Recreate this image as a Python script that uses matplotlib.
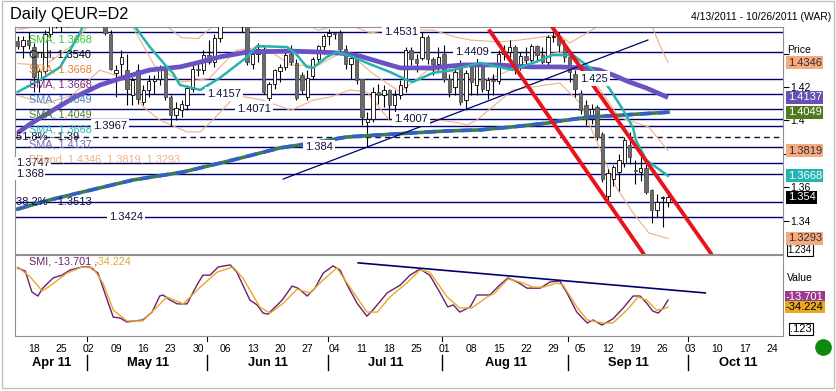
import numpy as np
import pandas as pd
import matplotlib
matplotlib.use("Agg")
import matplotlib.pyplot as plt
import matplotlib.transforms as mtransforms
from matplotlib.patches import Rectangle
from matplotlib.lines import Line2D

plt.rcParams['font.family'] = ['Liberation Sans', 'DejaVu Sans']

# trading days shown on the axis (4/13/2011 - 10/26/2011)
days = pd.bdate_range('2011-04-13', '2011-10-26')

# daily candles, 4/13 .. 9/27
opens = [1.4478, 1.4445, 1.4480, 1.4440, 1.4240, 1.4295, 1.4515, 1.4610, 1.4570, 1.4580,
         1.4690, 1.4830, 1.4810, 1.4805, 1.4825, 1.4830, 1.4835, 1.4515, 1.4285, 1.4340,
         1.4300, 1.4150, 1.4300, 1.4110, 1.4180, 1.4235, 1.4245, 1.4310, 1.4140, 1.4030,
         1.4060, 1.4095, 1.4190, 1.4310, 1.4300, 1.4390, 1.4350, 1.4495, 1.4640, 1.4610,
         1.4670, 1.4650, 1.4600, 1.4335, 1.4400, 1.4430, 1.4135, 1.4220, 1.4295, 1.4320,
         1.4400, 1.4345, 1.4270, 1.4140, 1.4265, 1.4365, 1.4445, 1.4505, 1.4525, 1.4525,
         1.4425, 1.4335, 1.4375, 1.4245, 1.3990, 1.4010, 1.4170, 1.4150, 1.4180, 1.4090,
         1.4150, 1.4200, 1.4420, 1.4370, 1.4375, 1.4500, 1.4365, 1.4335, 1.4400, 1.4245,
         1.4200, 1.4340, 1.4120, 1.4320, 1.4210, 1.4330, 1.4180, 1.4240, 1.4235, 1.4400,
         1.4410, 1.4440, 1.4335, 1.4385, 1.4360, 1.4445, 1.4390, 1.4350, 1.4500, 1.4500,
         1.4450, 1.4380, 1.4280, 1.4165, 1.4090, 1.4010, 1.4080, 1.3920, 1.3545, 1.3650,
         1.3690, 1.3745, 1.3850, 1.3700, 1.3690, 1.3715, 1.3585, 1.3465, 1.3535, 1.3510]
highs = [1.4505, 1.4508, 1.4530, 1.4465, 1.4310, 1.4540, 1.4640, 1.4620, 1.4600, 1.4700,
         1.4860, 1.4880, 1.4880, 1.4890, 1.4870, 1.4940, 1.4860, 1.4540, 1.4330, 1.4420,
         1.4400, 1.4260, 1.4340, 1.4210, 1.4270, 1.4270, 1.4330, 1.4325, 1.4150, 1.4110,
         1.4120, 1.4210, 1.4330, 1.4340, 1.4420, 1.4480, 1.4520, 1.4650, 1.4650, 1.4700,
         1.4690, 1.4680, 1.4610, 1.4420, 1.4465, 1.4440, 1.4230, 1.4310, 1.4340, 1.4410,
         1.4450, 1.4370, 1.4290, 1.4300, 1.4380, 1.4450, 1.4520, 1.4545, 1.4531, 1.4540,
         1.4450, 1.4390, 1.4390, 1.4250, 1.4050, 1.4200, 1.4220, 1.4210, 1.4185, 1.4180,
         1.4240, 1.4440, 1.4440, 1.4400, 1.4531, 1.4510, 1.4380, 1.4440, 1.4450, 1.4280,
         1.4320, 1.4360, 1.4300, 1.4330, 1.4380, 1.4350, 1.4260, 1.4280, 1.4420, 1.4450,
         1.4480, 1.4450, 1.4410, 1.4440, 1.4460, 1.4450, 1.4440, 1.4510, 1.4550, 1.4530,
         1.4480, 1.4420, 1.4300, 1.4180, 1.4120, 1.4100, 1.4090, 1.3930, 1.3710, 1.3730,
         1.3800, 1.3900, 1.3930, 1.3760, 1.3780, 1.3740, 1.3590, 1.3560, 1.3545, 1.3570]
lows = [1.4425, 1.4375, 1.4430, 1.4170, 1.4170, 1.4280, 1.4500, 1.4555, 1.4530, 1.4560,
        1.4660, 1.4780, 1.4770, 1.4770, 1.4780, 1.4790, 1.4510, 1.4300, 1.4140, 1.4250,
        1.4090, 1.4090, 1.4100, 1.4090, 1.4140, 1.4160, 1.4210, 1.4120, 1.3967, 1.4000,
        1.4020, 1.4060, 1.4170, 1.4265, 1.4280, 1.4340, 1.4320, 1.4470, 1.4570, 1.4600,
        1.4580, 1.4530, 1.4330, 1.4310, 1.4350, 1.4160, 1.4071, 1.4190, 1.4230, 1.4300,
        1.4330, 1.4120, 1.4160, 1.4120, 1.4250, 1.4340, 1.4400, 1.4450, 1.4490, 1.4400,
        1.4310, 1.4250, 1.4220, 1.3970, 1.3840, 1.3990, 1.4100, 1.4080, 1.4007, 1.4050,
        1.4130, 1.4170, 1.4330, 1.4290, 1.4360, 1.4340, 1.4270, 1.4300, 1.4230, 1.4140,
        1.4150, 1.4090, 1.4060, 1.4150, 1.4150, 1.4170, 1.4130, 1.4150, 1.4220, 1.4360,
        1.4380, 1.4280, 1.4300, 1.4340, 1.4350, 1.4350, 1.4340, 1.4320, 1.4470, 1.4410,
        1.4350, 1.4230, 1.4140, 1.4040, 1.3970, 1.3980, 1.3880, 1.3630, 1.3500, 1.3610,
        1.3580, 1.3720, 1.3740, 1.3620, 1.3640, 1.3560, 1.3385, 1.3420, 1.3360, 1.3480]
closes = [1.4445, 1.4480, 1.4450, 1.4260, 1.4295, 1.4515, 1.4610, 1.4570, 1.4580, 1.4690,
          1.4830, 1.4810, 1.4805, 1.4825, 1.4830, 1.4835, 1.4525, 1.4310, 1.4300, 1.4380,
          1.4185, 1.4240, 1.4125, 1.4180, 1.4235, 1.4245, 1.4305, 1.4140, 1.4030, 1.4075,
          1.4100, 1.4195, 1.4310, 1.4300, 1.4390, 1.4350, 1.4495, 1.4640, 1.4610, 1.4670,
          1.4650, 1.4600, 1.4350, 1.4400, 1.4430, 1.4170, 1.4220, 1.4300, 1.4320, 1.4390,
          1.4350, 1.4135, 1.4180, 1.4255, 1.4365, 1.4445, 1.4505, 1.4525, 1.4520, 1.4425,
          1.4335, 1.4375, 1.4240, 1.4020, 1.4010, 1.4170, 1.4150, 1.4180, 1.4090, 1.4150,
          1.4210, 1.4420, 1.4370, 1.4345, 1.4500, 1.4365, 1.4335, 1.4380, 1.4245, 1.4170,
          1.4290, 1.4110, 1.4285, 1.4230, 1.4330, 1.4190, 1.4240, 1.4235, 1.4400, 1.4410,
          1.4440, 1.4335, 1.4385, 1.4360, 1.4445, 1.4390, 1.4350, 1.4500, 1.4505, 1.4450,
          1.4380, 1.4290, 1.4190, 1.4060, 1.4010, 1.4070, 1.3900, 1.3650, 1.3685, 1.3720,
          1.3760, 1.3880, 1.3780, 1.3695, 1.3715, 1.3570, 1.3465, 1.3510, 1.3540, 1.3540]

# overlays (x = trading-day index)
teal_x = [0, 4.1, 7.8, 11.4, 13.2, 16.9, 19.7, 21.5, 24.2, 27.3, 28.4, 29.7, 33.4, 37.0, 42.0,
          43.8, 49.3, 50.8, 52.9, 54.0, 56.6, 58.4, 61.4, 63.9, 68.1, 71.2, 72.3, 76.0, 79.7,
          84.6, 90.6, 94.3, 97.9, 101.6, 104.0, 105.8, 108.2, 110.8, 112.6, 113.1, 115.0, 119]
teal_y = [1.4170, 1.4242, 1.4320, 1.4523, 1.4661, 1.4750, 1.4631, 1.4559, 1.4439, 1.4320,
          1.4284, 1.4212, 1.4182, 1.4254, 1.4380, 1.4445, 1.4439, 1.4403, 1.4320, 1.4314,
          1.4380, 1.4409, 1.4380, 1.4344, 1.4290, 1.4242, 1.4230, 1.4284, 1.4302, 1.4344,
          1.4302, 1.4344, 1.4391, 1.4391, 1.4332, 1.4290, 1.4194, 1.4062, 1.3955, 1.3883,
          1.3763, 1.3668]
purple_x = [0, 2.3, 5.9, 10.5, 15.1, 19.7, 24.2, 29.7, 33.4, 37.0, 42.0, 49.8, 55.3, 59.0,
            62.6, 66.3, 70.0, 75.4, 81.5, 87.7, 93.7, 99.2, 103.4, 106.4, 108.9, 111.9, 115.0, 119]
purple_y = [1.3925, 1.3978, 1.4050, 1.4140, 1.4212, 1.4260, 1.4302, 1.4320, 1.4349, 1.4380,
            1.4409, 1.4415, 1.4409, 1.4403, 1.4385, 1.4349, 1.4314, 1.4314, 1.4332, 1.4332,
            1.4320, 1.4320, 1.4314, 1.4302, 1.4272, 1.4230, 1.4194, 1.4137]
long_x = [0, 5.9, 12.0, 21.1, 30.3, 39.4, 48.0, 54.0, 60.3, 66.3, 72.3, 78.6, 84.6, 90.6,
          96.9, 99.2, 104.5, 110.8, 119]
long_y = [1.3469, 1.3524, 1.3572, 1.3643, 1.3691, 1.3763, 1.3835, 1.3865, 1.3901, 1.3913,
          1.3925, 1.3937, 1.3943, 1.3961, 1.3984, 1.3996, 1.4020, 1.4032, 1.4049]
bbu_x = [0, 3, 6, 10, 15, 20, 24, 27, 30, 33, 36, 40, 45, 50, 55, 60, 64.5, 68, 73.6, 76, 80,
         82.8, 88, 91.9, 96, 99.2, 101, 104, 108, 112, 115, 116.2, 117.5, 119]
bbu_y = [1.4545, 1.4560, 1.4620, 1.4800, 1.4950, 1.4950, 1.4700, 1.4570, 1.4495, 1.4490,
         1.4570, 1.4700, 1.4720, 1.4620, 1.4540, 1.4580, 1.4524, 1.4540, 1.4541, 1.4541,
         1.4500, 1.4481, 1.4470, 1.4481, 1.4500, 1.4511, 1.4463, 1.4520, 1.4600, 1.4620,
         1.4600, 1.4553, 1.4450, 1.4346]
bbm_x = [0, 5, 10, 15, 20, 25, 30, 35, 40, 45, 50, 55, 60, 65, 70, 75, 80, 85, 90, 95, 100,
         105, 110, 115.5, 119]
bbm_y = [1.4340, 1.4330, 1.4450, 1.4650, 1.4620, 1.4330, 1.4230, 1.4250, 1.4420, 1.4440,
         1.4330, 1.4330, 1.4420, 1.4280, 1.4170, 1.4300, 1.4290, 1.4230, 1.4300, 1.4390,
         1.4410, 1.4260, 1.4020, 1.3960, 1.3819]
bbl_x = [0, 5, 10, 15, 20, 23, 26, 31, 33.4, 35.7, 40, 45, 50, 54, 57.2, 60.8, 63.9, 68, 71,
         74, 76.7, 80, 82.2, 84, 90.6, 99.2, 103, 106.4, 109.5, 112.6, 115.5, 119]
bbl_y = [1.4150, 1.4100, 1.4150, 1.4300, 1.4250, 1.4080, 1.4002, 1.3931, 1.3931, 1.4002,
         1.4150, 1.4120, 1.4060, 1.4120, 1.4140, 1.4182, 1.4170, 1.4002, 1.3970, 1.3970,
         1.4002, 1.3990, 1.3972, 1.4002, 1.4182, 1.4224, 1.4100, 1.3840, 1.3600, 1.3446,
         1.3326, 1.3293]

# drawn levels and their label positions
levels = [1.4531, 1.4409, 1.425, 1.4157, 1.4071, 1.4007, 1.3967, 1.384, 1.3747, 1.368, 1.3513, 1.3424]
level_lbl = ['1.4531', '1.4409', '1.425', '1.4157', '1.4071', '1.4007', '1.3967', '1.384',
             '1.3747', '1.368', '', '1.3424']
level_pos = [70.1, 83.1, 105.5, 37.8, 43.3, 72.0, 16.9, 55.1, None, None, None, 19.8]
fib_level = 1.39
trend_up = ([48.6, 115.3], [1.3649, 1.4481])
red_lo = ([86.4, 114.4], [1.4535, 1.3207])
red_hi = ([97.8, 126.8], [1.4559, 1.3206])

# SMI panel
smi_x = [0, 1.4, 2.6, 3.7, 4.6, 6.5, 8.1, 9.6, 11.8, 13.2, 14.7, 16.4, 17.5, 18.7, 20.0, 22.9,
         24.6, 26.0, 26.6, 27.9, 29.2, 31.0, 32.8, 33.9, 35.2, 36.7, 38.9, 40.1, 42.5, 43.8,
         44.9, 45.8, 48.4, 50.2, 51.3, 53.0, 54.4, 55.9, 57.7, 59.0, 60.3, 62.1, 63.9, 65.0,
         67.6, 70.0, 71.8, 73.6, 75.4, 77.3, 78.7, 79.7, 80.9, 82.8, 84.0, 86.4, 88.2, 89.7,
         91.4, 93.2, 95.6, 97.4, 99.2, 100.5, 102.3, 104.2, 105.3, 106.9, 108.9, 110.8, 112.6,
         113.9, 115.1, 116.2, 117.2, 118.1, 119.0]
smi_v = [80, 71, 10, -2, 21, 51, 59, 74, 83, 83, 65, -14, -64, -66, -78, -72, -49, -2, 1, -14,
         -25, -25, 30, 59, 59, 83, 89, 68, -14, -28, -52, -55, -14, 27, 21, -2, 21, 65, 86, 74,
         30, -23, -61, -43, 7, 30, 59, 77, 59, 7, -34, -28, -49, -34, 1, 1, 30, 51, 39, 21, 21,
         39, 42, 7, -49, -81, -72, -87, -69, -37, -2, -2, -23, -46, -52, -37, -13.7]
sig_x = [0, 2.3, 4.5, 5.9, 9.0, 11.8, 13.8, 15.6, 17.5, 20.0, 22.9, 25.5, 27.3, 30.3, 33.4,
         36.5, 39.4, 41.2, 44.3, 46.2, 48.6, 51.1, 53.5, 55.9, 58.4, 60.8, 63.9, 65.8, 68.1,
         71.2, 73.6, 75.4, 78.6, 80.9, 83.1, 85.9, 87.3, 89.7, 91.9, 94.3, 96.1, 98.7, 99.8,
         102.3, 104.2, 107.1, 108.9, 111.5, 113.5, 115.1, 116.9, 118.1, 119.0]
sig_v = [83, 54, 13, 27, 65, 83, 80, 36, -43, -75, -75, -34, -5, -25, 24, 68, 83, 51, -34, -52,
         -23, 18, 7, 45, 80, 24, -49, -49, -5, 36, 74, 68, -5, -37, -37, -5, 7, 48, 39, 24, 24,
         36, 30, -34, -72, -81, -81, -43, -5, -14, -43, -40, -34.2]
smi_trend = ([62.3, 125.8], [95, 7])

W, H = 836, 391
fig = plt.figure(figsize=(W / 100, H / 100), dpi=100)
fig.patch.set_facecolor('white')


def fx(x):
    return x / W


def fy(y):
    return 1 - y / H


ax = fig.add_axes([fx(15), fy(254), fx(783) - fx(15), fy(27) - fy(254)])
ax2 = fig.add_axes([fx(15), fy(336), fx(783) - fx(15), fy(255) - fy(336)])
xmin, xmax = -0.48, 140.03
navy = '#00006e'

# ---- price panel ----
ax.set_xlim(xmin, xmax)
ax.set_ylim(1.3200, 1.4559)
for lv in levels:
    ax.axhline(lv, color=navy, lw=1.0, zorder=1)
ax.axhline(fib_level, color='#101040', lw=1.0, ls=(0, (4, 3)), zorder=1)

for xs, ys in [(bbu_x, bbu_y), (bbm_x, bbm_y), (bbl_x, bbl_y)]:
    ax.plot(xs, ys, color='#f0b088', lw=0.8, zorder=2)

idx = np.arange(len(closes))
o = np.array(opens)
c = np.array(closes)
up = c >= o
ax.vlines(idx, lows, highs, color='black', lw=0.8, zorder=3)
body = np.maximum(np.abs(c - o), 0.00025)
ax.bar(idx[up], body[up], bottom=np.minimum(o, c)[up], width=0.62, facecolor='white',
       edgecolor='black', lw=0.6, zorder=4)
ax.bar(idx[~up], body[~up], bottom=np.minimum(o, c)[~up], width=0.62, facecolor='#6c6c6c',
       edgecolor='#505050', lw=0.6, zorder=4)

ax.plot(long_x, long_y, color='#3f7a52', lw=2.6, zorder=5)
ax.plot(long_x, long_y, color='#2f62c4', lw=2.6, dashes=(3, 2), zorder=5)
ax.plot(purple_x, purple_y, color='#6a52c4', lw=3.4, zorder=5, solid_capstyle='butt')
ax.plot(teal_x, teal_y, color='#25b3ad', lw=1.8, zorder=5)
ax.plot(*trend_up, color=navy, lw=0.9, zorder=5)
ax.plot(*red_lo, color='#e8141c', lw=2.8, zorder=6)
ax.plot(*red_hi, color='#e8141c', lw=2.8, zorder=6)

for lv, s, p in zip(levels, level_lbl, level_pos):
    if not s:
        continue
    if p is None:
        ax.text(-0.3, lv, s, ha='left', va='center', fontsize=8, color='#10103a', zorder=7,
                bbox=dict(facecolor='white', edgecolor='none', pad=0.8))
    else:
        ax.text(p, lv, s, ha='center', va='center', fontsize=8, color='#10103a', zorder=7,
                bbox=dict(facecolor='white', edgecolor='none', pad=1.6))
ax.text(-0.3, fib_level, '51.8% - 1.39', ha='left', va='center', fontsize=8, color='#10103a', zorder=7)
ax.text(-0.3, 1.3513, '38.2% - 1.3513', ha='left', va='center', fontsize=8, color='#10103a', zorder=7)

ax.set_xticks([])
ax.yaxis.tick_right()
ax.set_yticks([1.34, 1.36, 1.38, 1.40, 1.42, 1.44])
ax.set_yticklabels(['1.34', '1.36', '', '1.4', '1.42', ''])
ax.tick_params(axis='y', length=4, width=0.8, pad=1, labelsize=7.5)
for sp in ax.spines.values():
    sp.set_color('#909090')

trans = mtransforms.blended_transform_factory(ax.transAxes, ax.transData)
ax.text(1.006, 1.3222, '1.234', transform=trans, fontsize=7, va='center', clip_on=False,
        zorder=8, bbox=dict(facecolor='white', edgecolor='black', lw=0.8, pad=0.8))
boxes = [(1.4346, '1.4346', '#f6aa80', '#303030'), (1.4137, '1.4137', '#6650b8', 'white'),
         (1.4049, '1.4049', '#4e7a20', 'white'), (1.3819, '1.3819', '#f6aa80', '#303030'),
         (1.3668, '1.3668', '#22b4b4', 'white'), (1.354, '1.354', 'black', 'white'),
         (1.3293, '1.3293', '#f6aa80', '#303030')]
for v, s, fc, tc in boxes:
    ax.text(1.006, v, s, transform=trans, fontsize=8, va='center', color=tc, clip_on=False,
            zorder=9, bbox=dict(facecolor=fc, edgecolor='none', pad=1.0))

# ---- SMI panel ----
ax2.set_xlim(xmin, xmax)
ax2.set_ylim(-119, 118)
ax2.plot(smi_x, smi_v, color='#6a2070', lw=1.0)
ax2.plot(sig_x, sig_v, color='#e8a828', lw=1.0)
ax2.plot(*smi_trend, color=navy, lw=1.2)
ax2.set_yticks([])
for sp in ax2.spines.values():
    sp.set_color('#909090')

mondays = [i for i, d in enumerate(days) if d.weekday() == 0]
ax2.set_xticks(mondays)
ax2.set_xticklabels([days[i].strftime('%d') for i in mondays])
ax2.tick_params(axis='x', length=0, pad=6, labelsize=7.5)

tr2 = mtransforms.blended_transform_factory(ax2.transData, ax2.transAxes)
months = pd.Series(range(len(days)), index=days).groupby(days.to_period('M'))
for per, grp in months:
    a, b = grp.iloc[0], grp.iloc[-1]
    ax2.text((a + b) / 2 + 0.3, -0.33, per.strftime('%b %y'), transform=tr2, ha='center',
             va='center', fontsize=9.3, fontweight='bold', clip_on=False)
    if a > 0:
        ax2.add_line(Line2D([a - 0.3, a - 0.3], [-0.23, -0.42], transform=tr2, color='black',
                            lw=1.0, clip_on=False))
        ax2.add_line(Line2D([a - 0.3, a - 0.3], [-0.01, -0.06], transform=tr2, color='black',
                            lw=0.8, clip_on=False))

# ---- texts ----
fig.text(fx(10), fy(15), 'Daily QEUR=D2', fontsize=11.7, va='center')
fig.text(fx(831), fy(17), '4/13/2011 - 10/26/2011 (WAR)', ha='right', va='center', fontsize=7.5)
fig.text(fx(787), fy(50), 'Price', fontsize=7.5, va='center')

legend = [('SMA, 1.3668', '#30c830'), ('Cndl, 1.3540', 'black'), ('SMA, 1.3668', '#e0802a'),
          ('SMA, 1.3668', '#7a2a7a'), ('SMA, 1.4049', '#4a7fc4'), ('SMA, 1.4049', '#4a7a24'),
          ('SMA, 1.3668', '#30b5b5'), ('SMA, 1.4137', '#7a68b0'),
          ('BBand, 1.4346, 1.3819, 1.3293', '#f0b080')]
for k, (s, col) in enumerate(legend):
    fig.text(fx(29), fy(40 + 14.9 * k), s, color=col, fontsize=7.8, va='center', zorder=10)

fig.text(fx(29), fy(262), 'SMI, -13.701 ,', color='#6a2070', fontsize=7.8, va='center')
fig.text(fx(95), fy(262), '-34.224', color='#e0a828', fontsize=7.8, va='center')

fig.text(fx(787), fy(278), 'Value', fontsize=7.5, va='center')
fig.text(fx(786), fy(297), '-13.701', fontsize=8, va='center', color='white',
         bbox=dict(facecolor='#9a3a8e', edgecolor='none', pad=1.0))
fig.text(fx(786), fy(307), '-34.224', fontsize=8, va='center', color='black',
         bbox=dict(facecolor='#e8a820', edgecolor='none', pad=1.0))
fig.text(fx(790), fy(329), '.123', fontsize=8, va='center',
         bbox=dict(facecolor='white', edgecolor='black', lw=0.8, pad=0.8))
fig.add_artist(Line2D([fx(823)], [fy(347)], marker='o', markersize=11, color='#0b8a0b',
                      transform=fig.transFigure))
fig.add_artist(Rectangle((fx(2), fy(388)), fx(834) - fx(2), fy(1) - fy(388),
                         transform=fig.transFigure, fill=False, edgecolor='#c0c0c0', lw=1))

fig.savefig('out.png', dpi=100)
